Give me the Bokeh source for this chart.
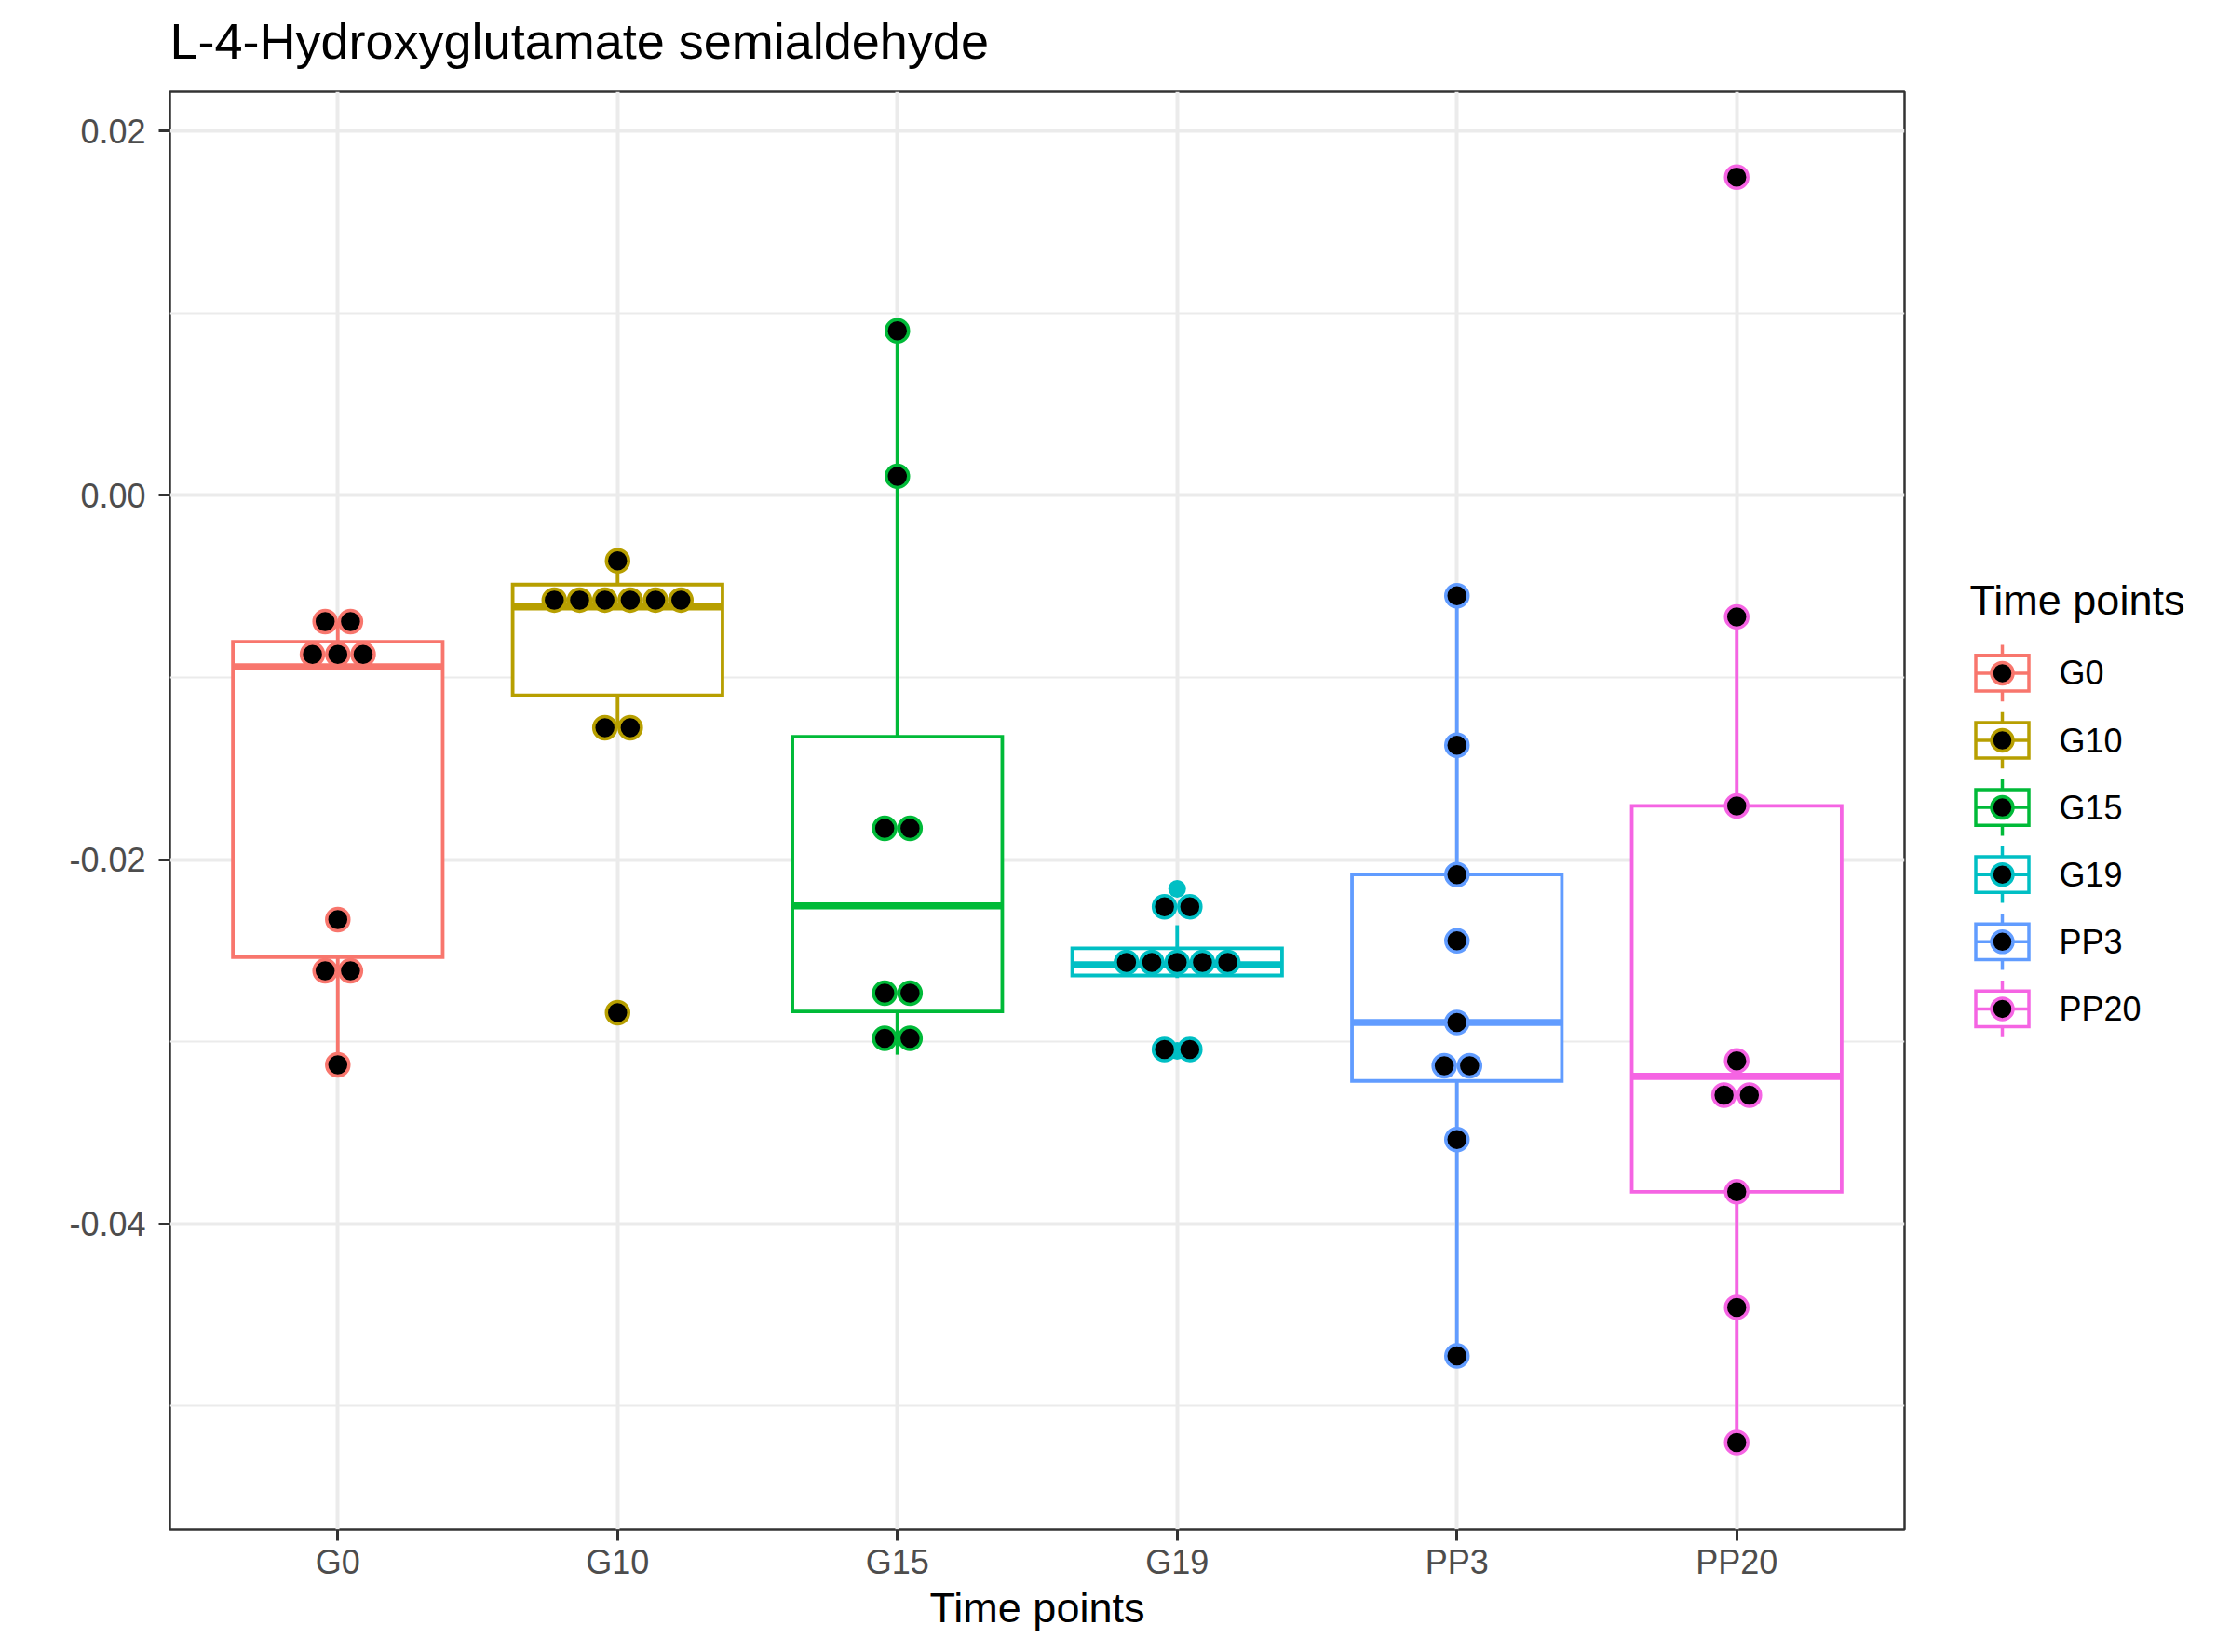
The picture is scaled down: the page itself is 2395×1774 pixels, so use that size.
import numpy as np
from bokeh.plotting import figure
from bokeh.models import Range1d, FixedTicker, PrintfTickFormatter
from bokeh.layouts import row, column
from bokeh.embed import file_html
from bokeh.resources import INLINE
from bokeh.core.properties import value

# ---------------- data ----------------
categories = ["G0", "G10", "G15", "G19", "PP3", "PP20"]
colors = ["#F8766D", "#B79F00", "#00BA38", "#00BFC4", "#619CFF", "#F564E3"]

dots_G0 = [-0.00693, -0.00693, -0.00873, -0.00873, -0.00873, -0.02329, -0.02611, -0.02611, -0.03127]
dots_G10 = [-0.0036, -0.00575, -0.00575, -0.00575, -0.00575, -0.00575, -0.00575, -0.01276, -0.01276, -0.0284]
dots_G15 = [0.00903, 0.00105, -0.01828, -0.01828, -0.02733, -0.02733, -0.02981, -0.02981]
dots_G19 = [-0.02259, -0.02259, -0.02564, -0.02564, -0.02564, -0.02564, -0.02564, -0.03042, -0.03042]
dots_PP3 = [-0.00551, -0.01372, -0.02082, -0.02446, -0.02894, -0.03132, -0.03132, -0.03537, -0.04725]
dots_PP20 = [0.01747, -0.00667, -0.01705, -0.03105, -0.03293, -0.03293, -0.03824, -0.04458, -0.05200]

whisker_low = [-0.03127, -0.0128, -0.03071, -0.02650, -0.04725, -0.05200]
box_q1 = [-0.02535, -0.01098, -0.02833, -0.02636, -0.03215, -0.03824]
box_median = [-0.00941, -0.00612, -0.02254, -0.02578, -0.02894, -0.03190]
box_q3 = [-0.00804, -0.00490, -0.01325, -0.02487, -0.02082, -0.01705]
whisker_high = [-0.00693, -0.0036, 0.00903, -0.02360, -0.00551, -0.00667]

outlier_group = ["G10", "G19", "G19", "PP20"]
outlier_value = [-0.0284, -0.0216, -0.0305, 0.01747]

y_ticks = [-0.04, -0.02, 0.00, 0.02]
y_minor = [-0.05, -0.03, -0.01, 0.01]

title_text = "L-4-Hydroxyglutamate semialdehyde"
x_title = "Time points"
legend_title = "Time points"

dots_all = [dots_G0, dots_G10, dots_G15, dots_G19, dots_PP3, dots_PP20]

FONT = "Liberation Sans"

# layout constants (screen px)
W_TOTAL = 2379
T_H = 80                      # height of the title strip
W_MAIN, H = 2070, 1758 - T_H  # main row below the title strip
F_TOP, F_BOTTOM = 98 - T_H, 1642 - T_H

# ---------------- title strip ----------------
tt = figure(width=W_TOTAL, height=T_H, output_backend="svg", toolbar_location=None,
            x_range=Range1d(0, W_TOTAL), y_range=Range1d(T_H, 0),
            min_border_left=0, min_border_right=0, min_border_top=0, min_border_bottom=0,
            frame_align=False)
tt.axis.visible = False
tt.grid.visible = False
tt.outline_line_color = None
tt.background_fill_color = "white"
tt.border_fill_color = "white"
tt.text(x=[182], y=[43], text=[title_text], text_font=value(FONT),
        text_font_size=value("54px"), text_baseline="middle", text_color="black")

# ---------------- main figure ----------------
p = figure(width=W_MAIN, height=H, output_backend="svg", toolbar_location=None,
           x_range=Range1d(0.4, 6.6), y_range=Range1d(-0.05678, 0.02216),
           min_border_left=182, min_border_right=25, min_border_top=F_TOP,
           min_border_bottom=H - F_BOTTOM)
p.background_fill_color = "white"
p.border_fill_color = "white"
p.outline_line_color = "#333333"
p.outline_line_width = 2.5

xs = np.arange(1, len(categories) + 1)
p.xaxis.ticker = FixedTicker(ticks=list(xs))
p.xaxis.major_label_overrides = {int(i): c for i, c in zip(xs, categories)}
p.yaxis.ticker = FixedTicker(ticks=y_ticks, minor_ticks=y_minor)
p.yaxis.formatter = PrintfTickFormatter(format="%.2f")

for ax in (p.xaxis, p.yaxis):
    ax.axis_line_color = None
    ax.major_tick_line_color = "#333333"
    ax.major_tick_line_width = 3
    ax.major_tick_out = 12
    ax.major_tick_in = 0
    ax.minor_tick_line_color = None
    ax.major_label_text_font = FONT
    ax.major_label_text_font_size = "36px"
    ax.major_label_text_color = "#4D4D4D"
p.xaxis.major_label_standoff = 2
p.yaxis.major_label_standoff = 14
p.xaxis.axis_label = x_title
p.xaxis.axis_label_text_font = FONT
p.xaxis.axis_label_text_font_size = "45px"
p.xaxis.axis_label_text_font_style = "normal"
p.xaxis.axis_label_text_color = "black"
p.xaxis.axis_label_standoff = 0

p.xgrid.grid_line_color = "#EBEBEB"
p.xgrid.grid_line_width = 4
p.ygrid.grid_line_color = "#EBEBEB"
p.ygrid.grid_line_width = 4
p.ygrid.minor_grid_line_color = "#EBEBEB"
p.ygrid.minor_grid_line_width = 2

half = 0.375
# whiskers
p.segment(x0=xs, y0=box_q3, x1=xs, y1=whisker_high, line_color=colors, line_width=3.8)
p.segment(x0=xs, y0=box_q1, x1=xs, y1=whisker_low, line_color=colors, line_width=3.8)
# boxes
p.quad(left=xs - half, right=xs + half, bottom=box_q1, top=box_q3,
       fill_color="white", line_color=colors, line_width=3.8, line_join="miter")
# medians
p.segment(x0=xs - half, y0=box_median, x1=xs + half, y1=box_median,
          line_color=colors, line_width=7.6, line_cap="butt")
# outliers (box plot)
ox = [categories.index(g) + 1 for g in outlier_group]
oc = [colors[categories.index(g)] for g in outlier_group]
p.scatter(x=ox, y=outlier_value, size=19, fill_color=oc, line_color=None)

# dot plot (centered stacks)
step = 0.0905
dx, dy, dc = [], [], []
for i, vals in enumerate(dots_all):
    uniq = []
    for v in vals:
        if v not in uniq:
            uniq.append(v)
    for v in uniq:
        n = vals.count(v)
        for k in range(n):
            dx.append(xs[i] + (k - (n - 1) / 2) * step)
            dy.append(v)
            dc.append(colors[i])
p.scatter(x=dx, y=dy, size=24, fill_color="black", line_color=dc, line_width=3.5)

# ---------------- legend panel (page-pixel coordinates) ----------------
LW = W_TOTAL - W_MAIN
lg = figure(width=LW, height=H, output_backend="svg", toolbar_location=None,
            x_range=Range1d(W_MAIN, W_MAIN + LW), y_range=Range1d(1642, 98),
            min_border_left=0, min_border_right=0, min_border_top=F_TOP,
            min_border_bottom=H - F_BOTTOM)
lg.axis.visible = False
lg.grid.visible = False
lg.outline_line_color = None
lg.background_fill_color = "white"
lg.border_fill_color = "white"

lg.text(x=[2115], y=[644], text=[legend_title], text_font=value(FONT),
        text_font_size=value("45px"), text_baseline="middle", text_color="black")

kx = 2150
ky = [722.4 + i * 72.1 for i in range(len(categories))]
n = len(categories)
lg.segment(x0=[kx] * n, y0=[y - 30.3 for y in ky], x1=[kx] * n, y1=[y + 30.3 for y in ky],
           line_color=colors, line_width=3.5)
lg.quad(left=[kx - 28.5] * n, right=[kx + 28.5] * n, top=[y - 19.1 for y in ky],
        bottom=[y + 19.1 for y in ky], fill_color="white", line_color=colors,
        line_width=3.5, line_join="miter")
lg.segment(x0=[kx - 28.5] * n, y0=ky, x1=[kx + 28.5] * n, y1=ky, line_color=colors, line_width=3.5)
lg.scatter(x=[kx] * n, y=ky, size=23, fill_color="black", line_color=colors, line_width=3.5)
lg.text(x=[2211] * n, y=ky, text=categories, text_font=value(FONT),
        text_font_size=value("36px"), text_baseline="middle", text_color="black")

layout = column(tt, row(p, lg))
open("out.html", "w").write(file_html(layout, INLINE))
